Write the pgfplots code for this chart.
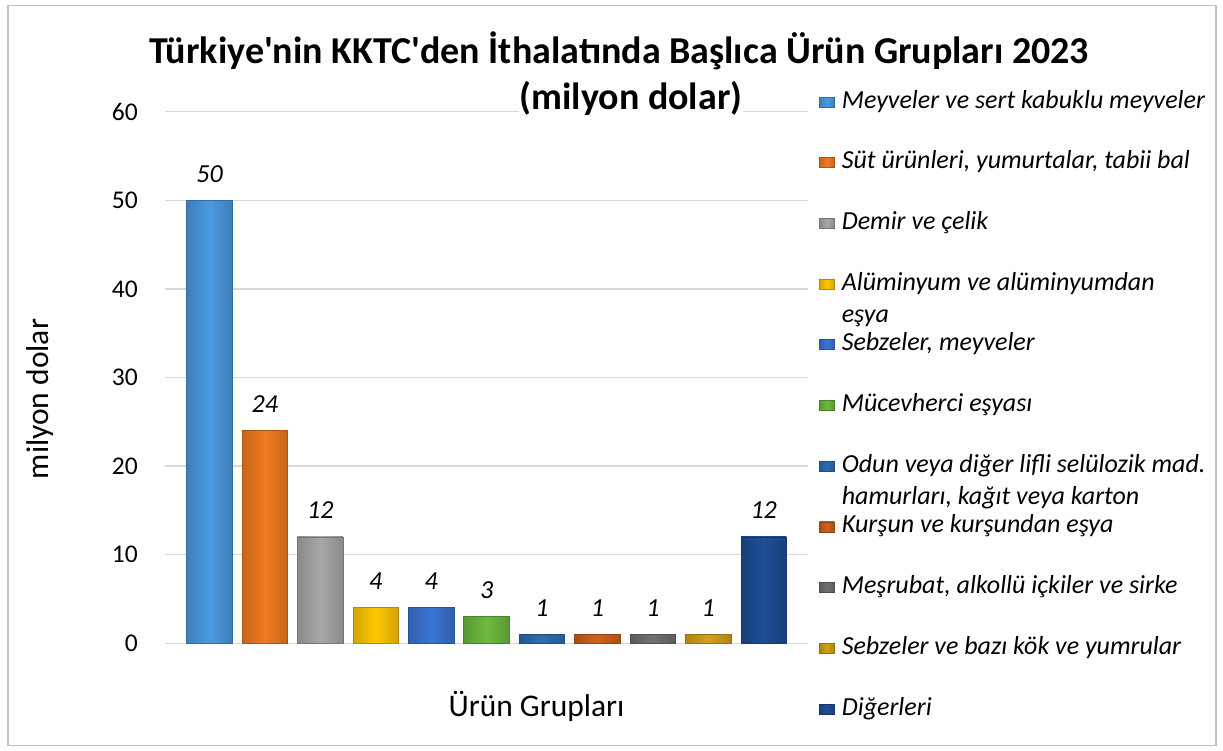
\documentclass[border=0pt]{standalone}
\usepackage{pgfplots}
\pgfplotsset{compat=1.18}
\usepackage{fontspec}
\setmainfont{Carlito}
\newfontfamily\titlefont{Carlito}
\definecolor{c1}{HTML}{4A9AE2}
\definecolor{c2}{HTML}{F27B21}
\definecolor{c3}{HTML}{A8A8A8}
\definecolor{c4}{HTML}{FFC800}
\definecolor{c5}{HTML}{3B74D6}
\definecolor{c6}{HTML}{6DBA3E}
\definecolor{c7}{HTML}{2E6DB4}
\definecolor{c8}{HTML}{D2601A}
\definecolor{c9}{HTML}{707070}
\definecolor{c10}{HTML}{D3A21B}
\definecolor{c11}{HTML}{1F4E96}
\definecolor{gridgray}{HTML}{D9D9D9}
\definecolor{bordergray}{HTML}{BFBFBF}
\begin{document}
\begin{tikzpicture}[x=1pt,y=1pt]
\useasboundingbox (0,0) rectangle (1223,751);
\fill[white] (0,0) rectangle (1223,751);
\draw[bordergray, line width=1.5pt] (8,5.5) rectangle (1216,745.5);
\node[anchor=base, font=\titlefont\fontsize{38}{44}\selectfont\bfseries] at (619,687) {Türkiye'nin KKTC'den İthalatında Başlıca Ürün Grupları 2023};
\begin{axis}[
  at={(165pt,107.7pt)}, anchor=south west,
  scale only axis, width=642.5pt, height=531.6pt,
  xmin=-0.803, xmax=10.79, ymin=0, ymax=60,
  ytick={0,10,...,60}, xtick=\empty,
  axis line style={draw=none}, major tick length=0pt,
  ymajorgrids, grid style={gridgray, line width=1.5pt},
  /pgf/number format/assume math mode=true,
  yticklabel style={font=\fontsize{25.5}{28}\selectfont, inner sep=0pt, xshift=-27pt},
  clip=false,
  bev/.style={draw=#1!70!black, line width=0.8pt, left color=#1!82!black, right color=#1!82!black, middle color=#1},
  every axis plot/.append style={ybar, bar width=0.82, bar shift=0pt},
  nodes near coords,
  every node near coord/.append style={font=\fontsize{26}{30}\selectfont\itshape, anchor=base, yshift=18pt, inner sep=0pt, text=black},
  legend image code/.code={\draw[#1] (0pt,-4pt) rectangle (15pt,6pt);},
  legend style={at={(1.0179,1.04458)}, anchor=north west, draw=none, fill=none,
    inner sep=0pt, outer sep=0pt, row sep=30.7pt, column sep=7pt,
    font=\fontsize{26}{32}\selectfont\itshape,
    nodes={inner sep=0pt, text height=20pt, text depth=10pt}},
  legend cell align=left,
]
\addplot[bev=c1] coordinates {(0,50)};
\addlegendentry{Meyveler ve sert kabuklu meyveler}
\addplot[bev=c2] coordinates {(1,24)};
\addlegendentry{Süt ürünleri, yumurtalar, tabii bal}
\addplot[bev=c3] coordinates {(2,12)};
\addlegendentry{Demir ve çelik}
\addplot[bev=c4] coordinates {(3,4)};
\addlegendentry{\begin{tabular}[t]{@{}l@{}}Alüminyum ve alüminyumdan\\eşya\end{tabular}}
\addplot[bev=c5] coordinates {(4,4)};
\addlegendentry{Sebzeler, meyveler}
\addplot[bev=c6] coordinates {(5,3)};
\addlegendentry{Mücevherci eşyası}
\addplot[bev=c7] coordinates {(6,1)};
\addlegendentry{\begin{tabular}[t]{@{}l@{}}Odun veya diğer lifli selülozik mad.\\hamurları, kağıt veya karton\end{tabular}}
\addplot[bev=c8] coordinates {(7,1)};
\addlegendentry{Kurşun ve kurşundan eşya}
\addplot[bev=c9] coordinates {(8,1)};
\addlegendentry{Meşrubat, alkollü içkiler ve sirke}
\addplot[bev=c10] coordinates {(9,1)};
\addlegendentry{Sebzeler ve bazı kök ve yumrular}
\addplot[bev=c11] coordinates {(10,12)};
\addlegendentry{Diğerleri}
\end{axis}
\node[anchor=base, font=\titlefont\fontsize{38}{44}\selectfont\bfseries, fill=white, inner sep=1pt] at (631,641) {(milyon dolar)};
\node[rotate=90, anchor=base, font=\fontsize{31.5}{36}\selectfont] at (48.3,352) {milyon dolar};
\node[anchor=base, font=\fontsize{31.5}{36}\selectfont] at (536.5,34.3) {Ürün Grupları};
\end{tikzpicture}
\end{document}
